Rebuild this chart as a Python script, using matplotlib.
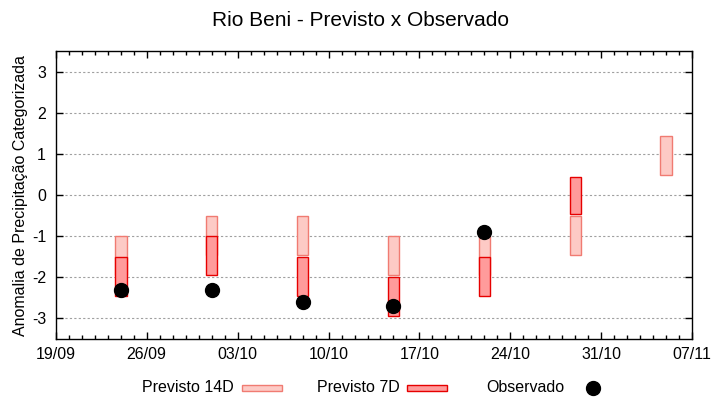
import matplotlib
matplotlib.use('Agg')
import matplotlib.pyplot as plt
import matplotlib.dates as mdates
from matplotlib.patches import Rectangle
from matplotlib.lines import Line2D
from datetime import datetime, timedelta

plt.rcParams['font.family'] = ['Liberation Sans', 'DejaVu Sans']

# semanas (data central de cada previsao)
datas = ['24/09', '01/10', '08/10', '15/10', '22/10', '29/10', '05/11']
prev14_alto = [-1.0, -0.5, -0.5, -1.0, -1.0, -0.5, 1.45]
prev14_baixo = [-1.95, -1.45, -1.45, -1.95, -1.95, -1.45, 0.5]
prev7_alto = [-1.5, -1.0, -1.5, -2.0, -1.5, 0.45, None]
prev7_baixo = [-2.45, -1.95, -2.45, -2.95, -2.45, -0.45, None]
obs_datas = ['24/09', '01/10', '08/10', '15/10', '22/10']
observado = [-2.3, -2.3, -2.6, -2.7, -0.9]

ano = 2023
def conv(d):
    dia, mes = d.split('/')
    return datetime(ano, int(mes), int(dia))

cor14_fill = '#fdcac5'
cor14_edge = '#f07b72'
cor7_fill = '#ff9b9b'
cor7_edge = '#e60000'

fig = plt.figure(figsize=(7.2, 4.0), dpi=100)
ax = fig.add_axes([0.0774, 0.1525, 0.8841, 0.7193])

x = [conv(d) for d in datas]
ax.bar(x, [a - b for a, b in zip(prev14_alto, prev14_baixo)], bottom=prev14_baixo,
       width=0.9, color=cor14_fill, edgecolor=cor14_edge, linewidth=1.0, zorder=2)
x7 = [xi for xi, v in zip(x, prev7_alto) if v is not None]
a7 = [v for v in prev7_alto if v is not None]
b7 = [v for v in prev7_baixo if v is not None]
ax.bar(x7, [a - b for a, b in zip(a7, b7)], bottom=b7,
       width=0.9, color=cor7_fill, edgecolor=cor7_edge, linewidth=1.0, zorder=3)
ax.plot([conv(d) for d in obs_datas], observado, 'o', color='black',
        markersize=10, zorder=4, clip_on=False)

ax.set_xlim(conv('19/09'), conv('07/11'))
ax.set_ylim(-3.5, 3.5)
ax.set_yticks([-3, -2, -1, 0, 1, 2, 3])
ax.set_yticklabels(['-3', '-2', '-1', '0', '1', '2', '3'])
ax.set_xticks([conv('19/09') + timedelta(days=7 * i) for i in range(8)])
ax.xaxis.set_major_formatter(mdates.DateFormatter('%d/%m'))
ax.xaxis.set_minor_locator(mdates.DayLocator())

ax.grid(axis='y', color='#a0a0a0', linestyle=(0, (2, 2)), linewidth=0.8, zorder=1)
ax.set_axisbelow(True)
ax.tick_params(which='major', direction='in', length=5, width=1, top=True, right=True,
               labelsize=11.5, colors='black', pad=6)
ax.tick_params(which='minor', direction='in', length=3, width=1, top=True, right=False)
ax.tick_params(axis='y', which='minor', left=False, right=False)
ax.tick_params(axis='y', pad=7)
for s in ax.spines.values():
    s.set_linewidth(1.0)

ax.set_ylabel('Anomalia de Precipitação Categorizada', fontsize=11.5, labelpad=3)
fig.text(0.5, 1 - 20 / 400, 'Rio Beni - Previsto x Observado', ha='center', va='center',
         fontsize=15)

# legenda estilo gnuplot
ly = 1 - 387 / 400
fig.text(142 / 720, ly, 'Previsto 14D', ha='left', va='center', fontsize=11.5)
fig.add_artist(Rectangle((242 / 720, 1 - 391 / 400), 40 / 720, 6 / 400, transform=fig.transFigure,
                         facecolor=cor14_fill, edgecolor=cor14_edge, linewidth=1.0))
fig.text(317 / 720, ly, 'Previsto 7D', ha='left', va='center', fontsize=11.5)
fig.add_artist(Rectangle((407 / 720, 1 - 391 / 400), 40 / 720, 6 / 400, transform=fig.transFigure,
                         facecolor=cor7_fill, edgecolor=cor7_edge, linewidth=1.0))
fig.text(486 / 720, ly, 'Observado', ha='left', va='center', fontsize=11.5)
fig.add_artist(Line2D([593 / 720], [1 - 388 / 400], marker='o', color='black', markersize=10,
                      transform=fig.transFigure))

fig.savefig('out.png', dpi=100)
